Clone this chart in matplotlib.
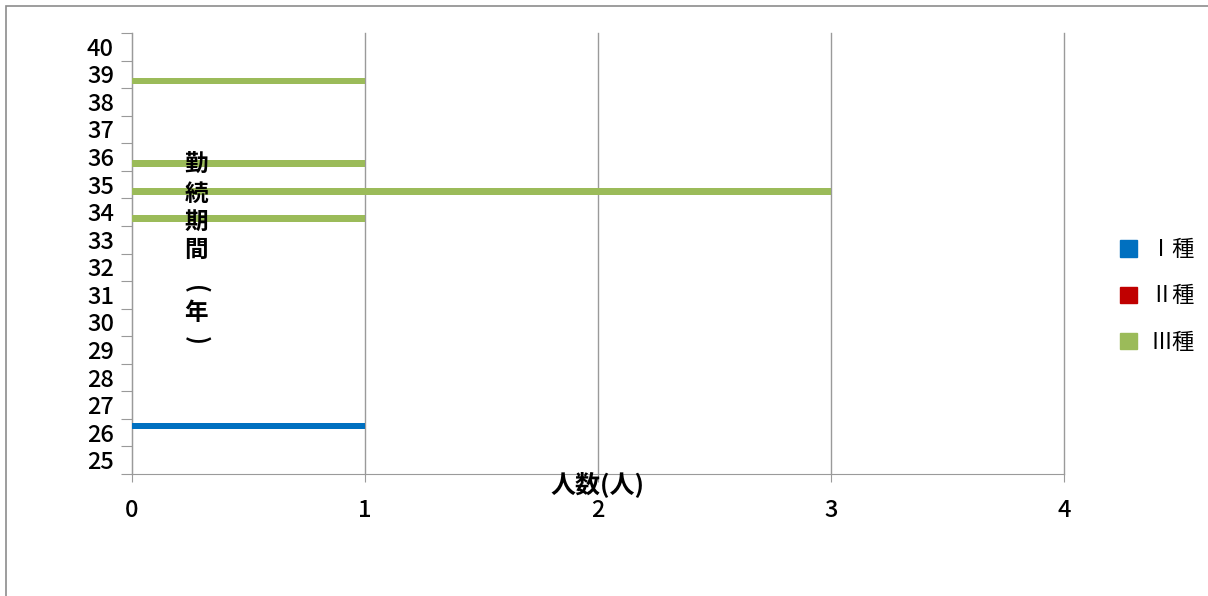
import numpy as np
import matplotlib.pyplot as plt
from matplotlib.patches import Patch, Rectangle

plt.rcParams['font.family'] = ['Noto Sans CJK JP', 'DejaVu Sans']

# data
years = [25, 26, 27, 28, 29, 30, 31, 32, 33, 34, 35, 36, 37, 38, 39, 40]
series_names = ['Ⅰ種', 'Ⅱ種', 'Ⅲ種']
type1 = [0, 1, 0, 0, 0, 0, 0, 0, 0, 0, 0, 0, 0, 0, 0, 0]
type2 = [0, 0, 0, 0, 0, 0, 0, 0, 0, 0, 0, 0, 0, 0, 0, 0]
type3 = [0, 0, 0, 0, 0, 0, 0, 0, 0, 1, 3, 1, 0, 0, 1, 0]
colors = ['#0070C0', '#C00000', '#9BBB59']

fig = plt.figure(figsize=(12.08, 5.96), dpi=100)
ax = fig.add_axes([132 / 1208, 1 - 474 / 596, (1064 - 132) / 1208, (474 - 33) / 596])

pos = np.arange(len(years))
bar_h = 0.24
offsets = [bar_h, 0, -bar_h]
for vals, off, col in zip([type1, type2, type3], offsets, colors):
    ax.barh(pos + off, vals, height=bar_h, color=col, zorder=3)

ax.set_xlim(0, 4)
ax.set_ylim(-0.5, len(years) - 0.5)
ax.set_xticks([0, 1, 2, 3, 4])
ax.set_xticklabels(['0', '1', '2', '3', '4'], fontsize=17, fontweight='medium')
ax.set_yticks(np.arange(len(years) + 1) - 0.5)
ax.set_yticklabels([])
ax.set_yticks(pos, minor=True)
ax.set_yticklabels([str(y) for y in years], minor=True, fontsize=17,
                   fontweight='medium')

grid_c = '#9a9a9a'
ax.xaxis.grid(True, color=grid_c, linewidth=1, zorder=0)
for gl in ax.get_xgridlines():
    gl.set_clip_on(False)
for side in ['top', 'right']:
    ax.spines[side].set_visible(False)
for side in ['left', 'bottom']:
    ax.spines[side].set_color(grid_c)
ax.tick_params(axis='y', which='major', length=8, color=grid_c, direction='out')
ax.tick_params(axis='y', which='minor', length=0, pad=13)
ax.tick_params(axis='x', length=6, color=grid_c, pad=12)

# vertical y-axis title, one character per line (brackets turned for vertical text)
ylabel_chars = ['勤', '続', '期', '間', '(', '年', ')']
ylabel_ypx = [165, 194, 222, 250, 289, 313, 340]
for ch, ypx in zip(ylabel_chars, ylabel_ypx):
    rot = -90 if ch in '()' else 0
    fig.text(196 / 1208, 1 - ypx / 596, ch, fontsize=17, fontweight='bold',
             ha='center', va='center', rotation=rot)
fig.text(597 / 1208, 1 - 484 / 596, '人数(人)', fontsize=18, fontweight='bold',
         ha='center', va='center')

handles = [Patch(color=c, label=n) for c, n in zip(colors, series_names)]
fig.legend(handles=handles, loc='center left',
           bbox_to_anchor=(1100 / 1208, 1 - 296 / 596), frameon=False,
           fontsize=16, handlelength=0.75, handleheight=0.75, handletextpad=0.6,
           labelspacing=1.05)

# outer chart-area border
fig.add_artist(Rectangle((6 / 1208, -0.1), 1.2, 1 - 6 / 596 + 0.1,
                         transform=fig.transFigure, fill=False,
                         edgecolor='#8c8c8c', linewidth=1.2))

fig.savefig('out.png', dpi=100)
